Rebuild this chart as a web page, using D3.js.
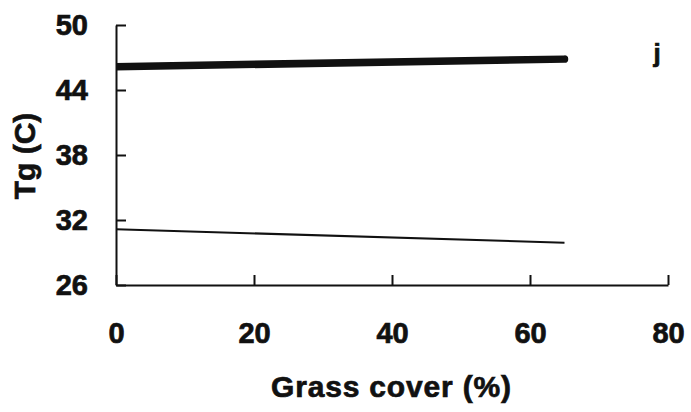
<!DOCTYPE html>
<html>
<head>
<meta charset="utf-8">
<script src="https://cdn.jsdelivr.net/npm/d3@7"></script>
<style>
  body { margin: 0; background: #fff; }
  text { font-family: "Liberation Sans", Arial, sans-serif; font-weight: bold; fill: #111; stroke: #111; stroke-width: 0.7; }
</style>
</head>
<body>
<svg id="chart" width="691" height="412"></svg>
<script>
// Valeurs
const grassCover = [0, 65];
const tgThick = [46.15, 46.85];
const tgThin = [31.15, 29.9];
const xTicks = [0, 20, 40, 60, 80];
const yTicks = [26, 32, 38, 44, 50];

const svg = d3.select("#chart");

const x = d3.scaleLinear().domain([0, 80]).range([116, 668]);
const y = d3.scaleLinear().domain([26, 50]).range([285, 25]);

// Zone de découpe pour que la ligne épaisse parte de l'axe
svg.append("clipPath").attr("id", "plot")
  .append("rect")
  .attr("x", x(0)).attr("y", 0)
  .attr("width", 691).attr("height", 412);

// Axe horizontal, graduations vers l'intérieur
const gx = svg.append("g")
  .attr("transform", `translate(0,${y(26)})`)
  .call(d3.axisBottom(x).tickValues(xTicks).tickSizeInner(-10).tickSizeOuter(0).tickPadding(37));

// Axe vertical
const gy = svg.append("g")
  .attr("transform", `translate(${x(0)},0)`)
  .call(d3.axisLeft(y).tickValues(yTicks).tickSizeInner(-10).tickSizeOuter(0).tickPadding(28));

[gx, gy].forEach(g => {
  g.selectAll("path, line").attr("stroke", "#111").attr("stroke-width", 2);
  g.selectAll("text")
    .attr("font-family", "Liberation Sans, Arial, sans-serif")
    .attr("font-weight", "bold")
    .attr("font-size", 29)
    .attr("fill", "#111");
});

// Courbes
const line = vals => d3.line()
  .x((d, i) => x(grassCover[i]))
  .y(d => y(d))(vals);

svg.append("path")
  .attr("d", line(tgThick))
  .attr("clip-path", "url(#plot)")
  .attr("fill", "none")
  .attr("stroke", "#111")
  .attr("stroke-width", 7.5)
  .attr("stroke-linecap", "round");

svg.append("path")
  .attr("d", line(tgThin))
  .attr("fill", "none")
  .attr("stroke", "#111")
  .attr("stroke-width", 2);

// Titres des axes
svg.append("text")
  .attr("x", 391)
  .attr("y", 397)
  .attr("text-anchor", "middle")
  .attr("font-size", 30)
  .attr("textLength", 240)
  .text("Grass cover (%)");

svg.append("text")
  .attr("transform", "translate(35,156) rotate(-90)")
  .attr("text-anchor", "middle")
  .attr("font-size", 30)
  .text("Tg (C)");

// Lettre du panneau
svg.append("text")
  .attr("x", 657)
  .attr("y", 62)
  .attr("text-anchor", "middle")
  .attr("font-size", 26)
  .text("j");
</script>
</body>
</html>
